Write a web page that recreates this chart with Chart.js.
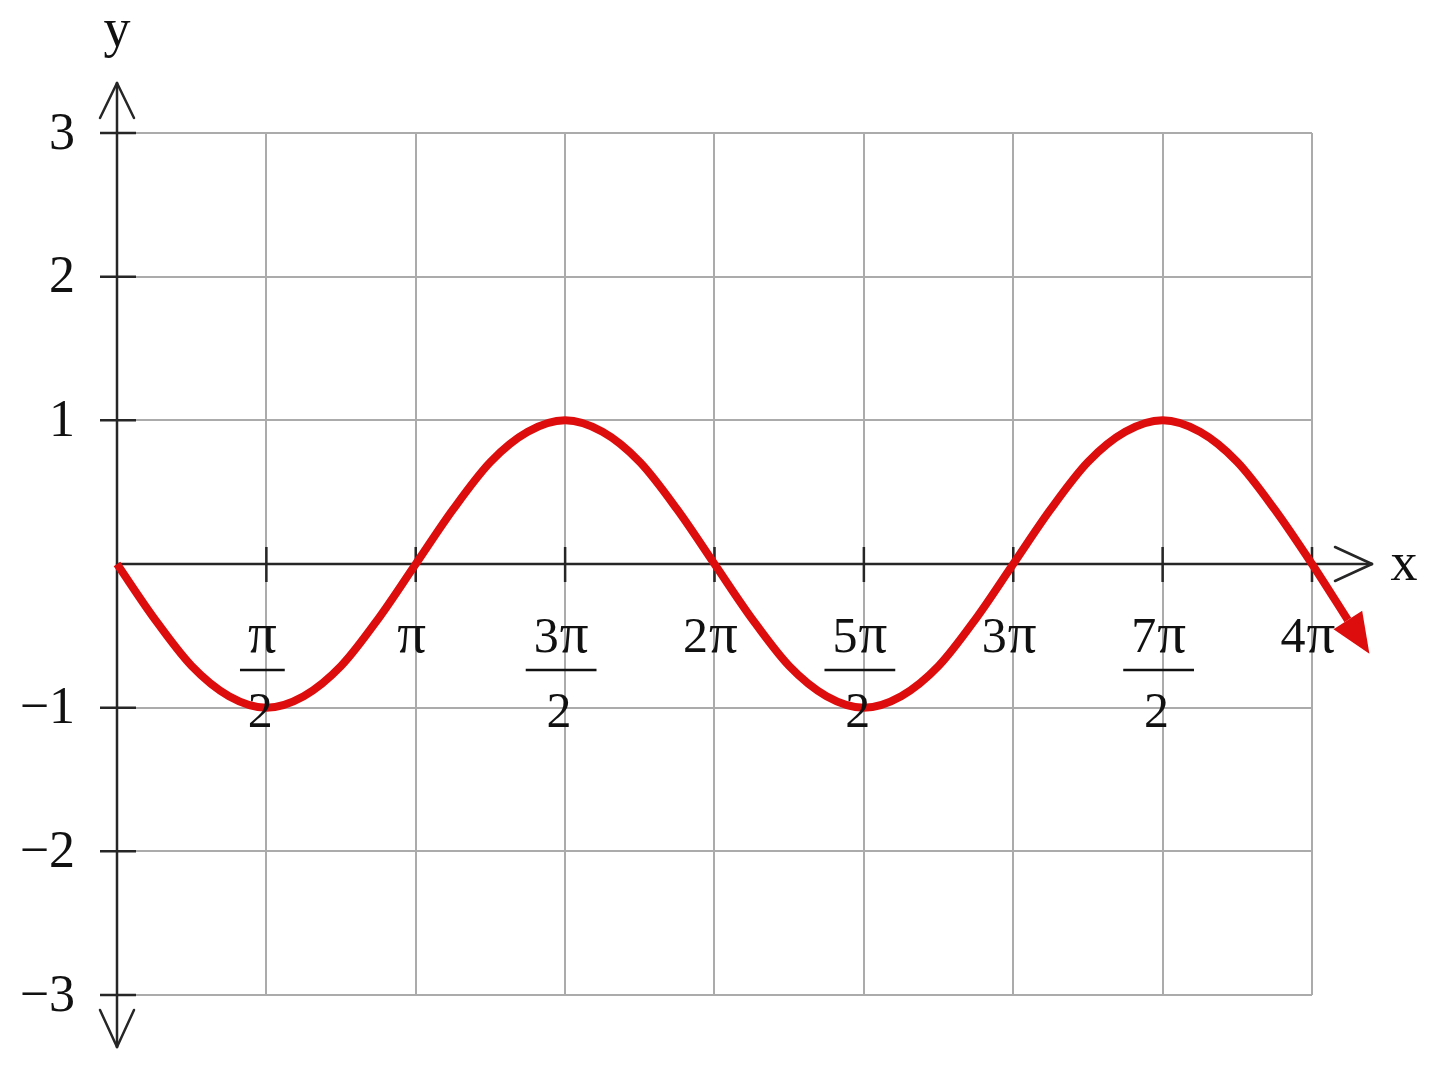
<!DOCTYPE html>
<html lang="en">
<head>
  <meta charset="UTF-8" />
  <title>y = -sin x</title>
  <script src="https://cdn.jsdelivr.net/npm/chart.js"></script>
  <style>
    html, body { margin: 0; padding: 0; background: #fff; }
    #wrap { width: 1440px; height: 1071px; position: relative; }
  </style>
</head>
<body>

<div id="wrap"><canvas id="plot"></canvas></div>

<script>
  // curve samples, x given in multiples of pi
  const xInPi = [0, 0.125, 0.25, 0.375, 0.5, 0.625, 0.75, 0.875,
                 1, 1.125, 1.25, 1.375, 1.5, 1.625, 1.75, 1.875,
                 2, 2.125, 2.25, 2.375, 2.5, 2.625, 2.75, 2.875,
                 3, 3.125, 3.25, 3.375, 3.5, 3.625, 3.75, 3.875,
                 4, 4.12];
  const yVals = [0, -0.38, -0.71, -0.92, -1, -0.92, -0.71, -0.38,
                 0, 0.38, 0.71, 0.92, 1, 0.92, 0.71, 0.38,
                 0, -0.38, -0.71, -0.92, -1, -0.92, -0.71, -0.38,
                 0, 0.38, 0.71, 0.92, 1, 0.92, 0.71, 0.38,
                 0, -0.39];

  // x tick labels at every pi/2: coefficient, then denominator ('' = none)
  const xTickCoef = ['', '', '3', '2', '5', '3', '7', '4'];
  const xTickDen = ['2', '', '2', '', '2', '', '2', ''];
  const yTicks = [-3, -2, -1, 1, 2, 3];

  const HALF_PI = Math.PI / 2;
  const SERIF = '"Liberation Serif", "Times New Roman", serif';
  const DIGIT_FONT = '50px ' + SERIF;
  const PI_FONT = '57px ' + SERIF;
  const GRID = '#ababab';
  const INK = '#262626';
  const RED = '#dd0d0d';

  const points = xInPi.map((v, i) => ({ x: v * Math.PI, y: yVals[i] }));

  function seg(ctx, x1, y1, x2, y2) {
    ctx.beginPath();
    ctx.moveTo(x1, y1);
    ctx.lineTo(x2, y2);
    ctx.stroke();
  }

  // draws "<coef>π" centred on cx, returns its width
  function piLabel(ctx, coef, cx, base) {
    ctx.font = DIGIT_FONT;
    const wc = coef ? ctx.measureText(coef).width + 1 : 0;
    ctx.font = PI_FONT;
    const wp = ctx.measureText('π').width;
    const left = cx - (wc + wp) / 2;
    ctx.textAlign = 'left';
    if (coef) {
      ctx.font = DIGIT_FONT;
      ctx.fillText(coef, left, base);
    }
    ctx.font = PI_FONT;
    ctx.fillText('π', left + wc, base);
    return wc + wp;
  }

  const axesPlugin = {
    id: 'axesAndLabels',
    beforeDatasetsDraw(chart) {
      const { ctx, scales: { x, y } } = chart;
      const x0 = x.getPixelForValue(0), y0 = y.getPixelForValue(0);
      const top = y.getPixelForValue(3), bottom = y.getPixelForValue(-3);
      const right = x.getPixelForValue(4 * Math.PI);
      ctx.save();
      ctx.strokeStyle = INK;
      ctx.lineWidth = 2.5;
      ctx.lineCap = 'round';
      // y axis with open arrows
      seg(ctx, x0, top - 50, x0, bottom + 52);
      seg(ctx, x0, top - 50, x0 - 17, top - 15);
      seg(ctx, x0, top - 50, x0 + 17, top - 15);
      seg(ctx, x0, bottom + 52, x0 - 17, bottom + 15);
      seg(ctx, x0, bottom + 52, x0 + 17, bottom + 15);
      // x axis with open arrow
      seg(ctx, x0, y0, right + 60, y0);
      seg(ctx, right + 60, y0, right + 23, y0 - 17);
      seg(ctx, right + 60, y0, right + 23, y0 + 17);
      ctx.lineCap = 'butt';
      // tick marks
      for (let k = 1; k <= 8; k++) {
        const px = x.getPixelForValue(k * HALF_PI);
        seg(ctx, px, y0 - 17, px, y0 + 18);
      }
      yTicks.forEach(v => {
        const py = y.getPixelForValue(v);
        seg(ctx, x0 - 17, py, x0 + 19, py);
      });
      ctx.restore();
    },
    afterDatasetsDraw(chart) {
      const { ctx, scales: { x, y } } = chart;
      const x0 = x.getPixelForValue(0), y0 = y.getPixelForValue(0);
      const right = x.getPixelForValue(4 * Math.PI);
      ctx.save();
      ctx.fillStyle = '#111';
      ctx.strokeStyle = '#111';

      // y tick labels
      ctx.font = '52px ' + SERIF;
      ctx.textAlign = 'right';
      ctx.textBaseline = 'middle';
      yTicks.forEach(v => {
        const txt = v < 0 ? '\u2212' + (-v) : String(v);
        ctx.fillText(txt, x0 - 42, y.getPixelForValue(v) + 2);
      });

      // x tick labels
      ctx.textBaseline = 'alphabetic';
      xTickCoef.forEach((coef, i) => {
        const cx = x.getPixelForValue((i + 1) * HALF_PI) - 4;
        const w = piLabel(ctx, coef, cx, y0 + 88);
        if (xTickDen[i]) {
          const bw = w + 16;
          ctx.lineWidth = 2.5;
          seg(ctx, cx - bw / 2, y0 + 106, cx + bw / 2, y0 + 106);
          ctx.font = DIGIT_FONT;
          ctx.textAlign = 'center';
          ctx.fillText(xTickDen[i], cx - 2, y0 + 163);
        }
      });

      // axis names
      ctx.font = '54px ' + SERIF;
      ctx.textAlign = 'center';
      ctx.textBaseline = 'middle';
      ctx.fillText('x', right + 92, y0 + 2);
      ctx.fillText('y', x0, 32);

      // filled arrowhead at the end of the curve
      const pts = chart.getDatasetMeta(0).data;
      const a = pts[pts.length - 2], b = pts[pts.length - 1];
      let dx = b.x - a.x, dy = b.y - a.y;
      const len = Math.hypot(dx, dy);
      dx /= len; dy /= len;
      const L = 40, H = 17;
      ctx.fillStyle = RED;
      ctx.beginPath();
      ctx.moveTo(b.x + dx * L, b.y + dy * L);
      ctx.lineTo(b.x - dy * H, b.y + dx * H);
      ctx.lineTo(b.x + dy * H, b.y - dx * H);
      ctx.closePath();
      ctx.fill();
      ctx.restore();
    }
  };

  new Chart(document.getElementById('plot'), {
    type: 'line',
    data: {
      datasets: [{
        data: points,
        borderColor: RED,
        borderWidth: 8,
        pointRadius: 0,
        cubicInterpolationMode: 'monotone',
        clip: false,
        fill: false
      }]
    },
    options: {
      responsive: true,
      maintainAspectRatio: false,
      animation: false,
      layout: { padding: { left: 117, right: 128, top: 133, bottom: 76 } },
      plugins: { legend: { display: false }, tooltip: { enabled: false } },
      scales: {
        x: {
          type: 'linear',
          min: 0,
          max: 4 * Math.PI + 1e-4,
          afterBuildTicks: s => { s.ticks = [0, 1, 2, 3, 4, 5, 6, 7, 8].map(k => ({ value: k * HALF_PI })); },
          afterFit: s => { s.height = 0; },
          ticks: { display: false },
          grid: { color: GRID, lineWidth: 2, drawTicks: false },
          border: { display: false }
        },
        y: {
          min: -3,
          max: 3,
          ticks: { display: false, stepSize: 1 },
          afterFit: s => { s.width = 0; },
          grid: {
            color: c => (c.tick && c.tick.value === 0) ? 'rgba(0,0,0,0)' : GRID,
            lineWidth: 2,
            drawTicks: false
          },
          border: { display: false }
        }
      }
    },
    plugins: [axesPlugin]
  });
</script>

</body>
</html>
